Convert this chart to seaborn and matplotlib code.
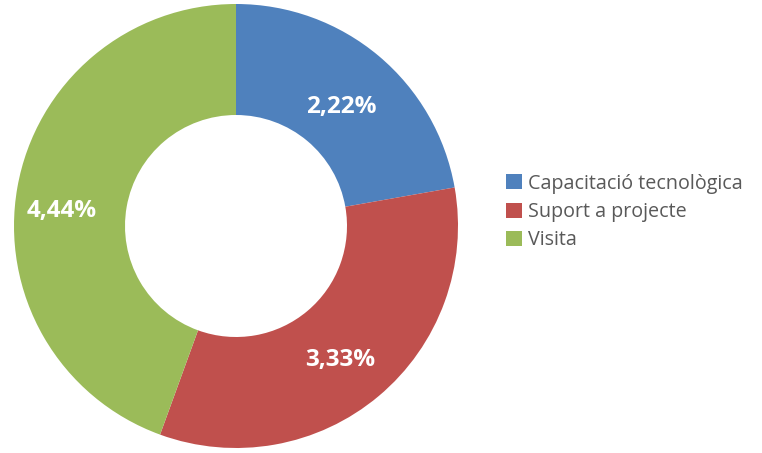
import matplotlib.pyplot as plt
import seaborn as sns
import numpy as np

sns.set_theme(style="white")
plt.rcParams['font.family'] = ['Open Sans', 'DejaVu Sans']

categories = ['Capacitació tecnològica', 'Suport a projecte', 'Visita']
values = [2.22, 3.33, 4.44]
labels = ['2,22%', '3,33%', '4,44%']
colors = ['#4F81BD', '#C0504D', '#9BBB59']

W, H = 762, 453
fig = plt.figure(figsize=(W / 100, H / 100), dpi=100)
cx, cy, r = 236, 226, 222
ax = fig.add_axes([(cx - r) / W, (H - cy - r) / H, 2 * r / W, 2 * r / H])

wedges, _ = ax.pie(values, colors=colors, startangle=90, counterclock=False,
                   radius=1, wedgeprops=dict(width=0.5, linewidth=0))
ax.set_xlim(-1, 1)
ax.set_ylim(-1, 1)
ax.set_aspect('equal')
ax.axis('off')

# label positions (Excel places them a bit differently from mid-angle)
lab_pos = [(0.473, 0.536), (0.468, -0.604), (-0.784, 0.068)]
for (x, y), t in zip(lab_pos, labels):
    ax.text(x, y, t, ha='center', va='center', color='white',
            fontsize=17.5, fontweight='bold')

leg = fig.legend(wedges, categories, loc='center left',
                 bbox_to_anchor=(506 / W, 1 - 212 / H), frameon=False,
                 fontsize=14.2, handlelength=0.8, handleheight=0.8,
                 handletextpad=0.3, labelspacing=0.42, borderaxespad=0,
                 borderpad=0)
for t in leg.get_texts():
    t.set_color('#595959')

fig.savefig('out.png', dpi=100)
